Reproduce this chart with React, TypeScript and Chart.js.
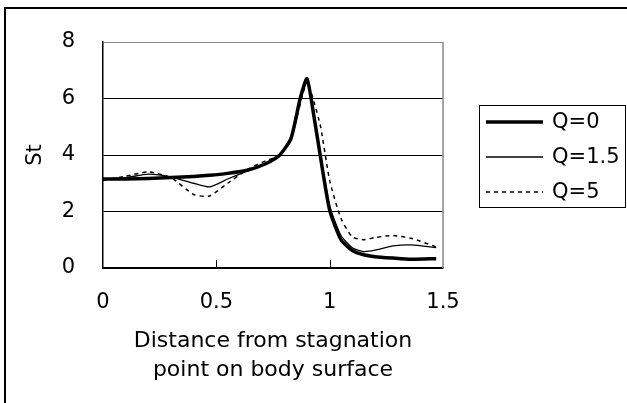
import React, { useEffect, useRef } from 'react';
import { Chart, registerables } from 'chart.js';

Chart.register(...registerables);

// ---- data ----
const X = [0, 0.1, 0.2, 0.3, 0.4, 0.47, 0.55, 0.64, 0.72, 0.78, 0.83, 0.87, 0.9, 0.93, 0.96, 1.0, 1.05, 1.1, 1.15, 1.2, 1.28, 1.36, 1.47];
const Q0 = [3.15, 3.15, 3.17, 3.2, 3.24, 3.28, 3.35, 3.47, 3.7, 4.0, 4.6, 6.0, 6.7, 5.4, 3.9, 2.05, 1.0, 0.62, 0.47, 0.4, 0.35, 0.31, 0.33];
const Q15 = [3.15, 3.2, 3.32, 3.22, 3.0, 2.87, 3.15, 3.45, 3.68, 4.0, 4.6, 5.9, 6.65, 5.5, 4.0, 2.2, 1.15, 0.72, 0.58, 0.63, 0.78, 0.82, 0.72];
const Q5 = [3.1, 3.25, 3.4, 3.2, 2.6, 2.55, 3.0, 3.5, 3.8, 4.0, 4.6, 5.8, 6.6, 5.9, 5.0, 3.1, 1.75, 1.1, 1.0, 1.08, 1.15, 1.05, 0.75];
const SERIES_LABELS = ['Q=0', 'Q=1.5', 'Q=5'];
const X_TICKS = [0, 0.5, 1, 1.5];
const Y_TICKS = [0, 2, 4, 6, 8];
const X_TITLE = ['Distance from stagnation', 'point on body surface'];
const Y_TITLE = 'St';

const FONT = 'DejaVu Sans';

const STYLES = [
  { width: 3.5, dash: [] as number[] },
  { width: 1.3, dash: [] as number[] },
  { width: 1.5, dash: [4, 4] },
];

const decor = {
  id: 'decor',
  beforeDraw(chart: any) {
    const ctx = chart.ctx;
    ctx.save();
    ctx.fillStyle = '#fff';
    ctx.fillRect(0, 0, chart.width, chart.height);
    ctx.strokeStyle = '#000';
    ctx.lineWidth = 2;
    ctx.strokeRect(5, 8, chart.width + 20, chart.height + 20);
    ctx.restore();
  },
  afterDraw(chart: any) {
    const { ctx, chartArea, scales } = chart;
    ctx.save();
    // right border of plot area
    ctx.strokeStyle = '#888';
    ctx.lineWidth = 1.5;
    ctx.beginPath();
    ctx.moveTo(chartArea.right, chartArea.top);
    ctx.lineTo(chartArea.right, chartArea.bottom);
    ctx.stroke();
    // inside tick marks on x axis
    ctx.strokeStyle = '#000';
    ctx.lineWidth = 1;
    for (const t of X_TICKS) {
      if (t === 0 || t === 1.5) continue;
      const px = Math.round(scales.x.getPixelForValue(t)) + 0.5;
      ctx.beginPath();
      ctx.moveTo(px, chartArea.bottom);
      ctx.lineTo(px, chartArea.bottom - 8);
      ctx.stroke();
    }
    // legend
    const lx = 479.5, ly = 105.5, lw = 146, lh = 102;
    ctx.fillStyle = '#fff';
    ctx.fillRect(lx, ly, lw, lh);
    ctx.strokeStyle = '#000';
    ctx.lineWidth = 1;
    ctx.strokeRect(lx, ly, lw, lh);
    ctx.font = `21px "${FONT}"`;
    ctx.textBaseline = 'middle';
    ctx.textAlign = 'left';
    SERIES_LABELS.forEach((lab, i) => {
      const y = 122 + i * 35;
      ctx.strokeStyle = '#000';
      ctx.lineWidth = STYLES[i].width;
      ctx.setLineDash(STYLES[i].dash);
      ctx.beginPath();
      ctx.moveTo(486, y);
      ctx.lineTo(543, y);
      ctx.stroke();
      ctx.setLineDash([]);
      ctx.fillStyle = '#000';
      ctx.fillText(lab, 552, y + 1);
    });
    ctx.restore();
  },
};

export default function App() {
  const ref = useRef<HTMLCanvasElement | null>(null);
  useEffect(() => {
    document.body.style.margin = '0';
    const canvas = ref.current;
    if (!canvas) return;
    const seriesY = [Q0, Q15, Q5];
    const chart = new Chart(canvas, {
      type: 'line',
      data: {
        datasets: SERIES_LABELS.map((lab, i) => ({
          label: lab,
          data: X.map((x, j) => ({ x, y: seriesY[i][j] })),
          borderColor: '#000',
          borderWidth: STYLES[i].width,
          borderDash: STYLES[i].dash,
          pointRadius: 0,
          fill: false,
          tension: 0.2,
        })),
      },
      options: {
        responsive: false,
        animation: false,
        devicePixelRatio: 1,
        layout: { padding: { left: 20, right: 184, top: 42, bottom: 18 } },
        plugins: { legend: { display: false }, tooltip: { enabled: false } },
        scales: {
          x: {
            type: 'linear',
            min: 0,
            max: 1.5,
            afterBuildTicks: (s: any) => { s.ticks = X_TICKS.map((v) => ({ value: v })); },
            grid: { color: 'transparent', drawTicks: false },
            border: { display: true, color: '#000', width: 1.5 },
            ticks: {
              color: '#000',
              padding: 22,
              font: { family: FONT, size: 21 },
              maxRotation: 0,
              autoSkip: false,
              callback: (v: any) => String(v),
            },
            title: {
              display: true,
              text: X_TITLE,
              color: '#000',
              padding: 0,
              font: { family: FONT, size: 22, lineHeight: '29px' },
            },
            afterFit: (s: any) => { s.height = 117; },
          },
          y: {
            type: 'linear',
            min: 0,
            max: 8,
            afterBuildTicks: (s: any) => { s.ticks = Y_TICKS.map((v) => ({ value: v })); },
            grid: {
              drawTicks: false,
              lineWidth: 1,
              color: (c: any) => (c.tick && c.tick.value === 8 ? '#888' : '#000'),
            },
            border: { display: true, color: '#000', width: 1.5 },
            ticks: { color: '#000', padding: 28, font: { family: FONT, size: 21 }, callback: (v: any) => String(v) },
            title: {
              display: true,
              text: Y_TITLE,
              color: '#000',
              padding: { top: 3, bottom: 0 },
              font: { family: FONT, size: 21 },
            },
            afterFit: (s: any) => { s.width = 83; },
          },
        },
      },
      plugins: [decor],
    } as any);
    return () => chart.destroy();
  }, []);
  return <canvas ref={ref} width={627} height={403} style={{ display: 'block' }} />;
}
